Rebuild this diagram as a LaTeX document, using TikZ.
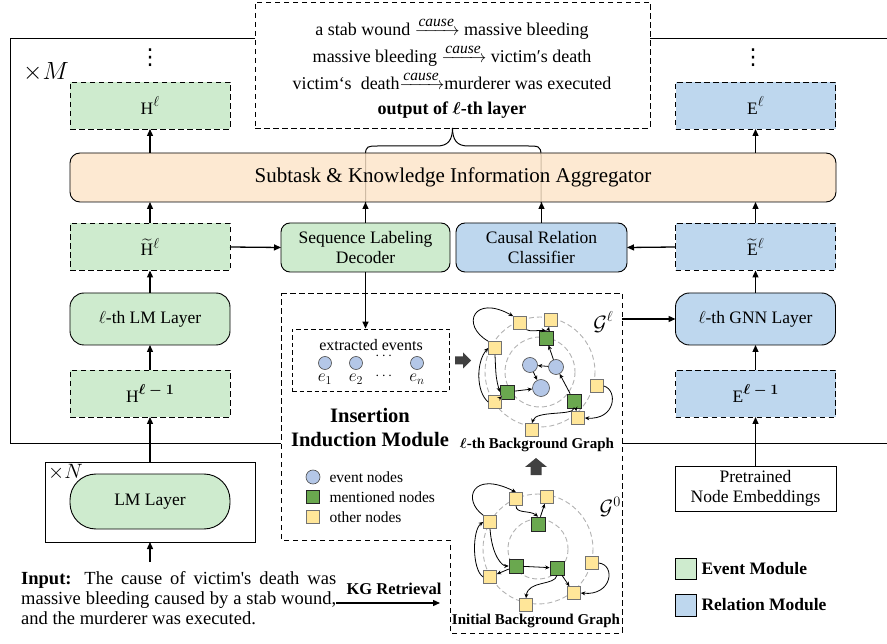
\documentclass[tikz,border=0pt]{standalone}
\usepackage{amsmath}
\usepackage{fontspec}
\setmainfont{Liberation Serif}
\newfontfamily\plainfont{Liberation Serif}
\newfontfamily\dejavu{DejaVu Sans}
\newcommand{\suplbl}[1]{\raisebox{0.42em}{\fontsize{15}{16}\selectfont$#1$}}
\newcommand{\causelbl}{\xrightarrow{\text{\fontsize{15.5}{16}\selectfont\itshape cause}}}
\usetikzlibrary{arrows.meta}
\definecolor{modgreen}{RGB}{206,235,206}
\definecolor{modblue}{RGB}{190,215,238}
\definecolor{aggr}{RGB}{252,228,200}
\definecolor{evb}{RGB}{180,199,231}
\definecolor{mentg}{RGB}{106,168,79}
\definecolor{othery}{RGB}{255,230,153}
\definecolor{blockgray}{RGB}{64,64,64}
\tikzset{
  dbox/.style={draw, dash pattern=on 5.5pt off 3.5pt, line width=0.9pt, minimum width=160pt, minimum height=47pt, inner sep=0pt, outer sep=0pt},
  rbox/.style={draw, rounded corners=14pt, line width=0.9pt, minimum width=160pt, minimum height=52pt, inner sep=0pt, outer sep=0pt},
  sbox/.style={draw, line width=0.9pt, inner sep=0pt, outer sep=0pt},
  arr/.style={-{Triangle[length=7pt,width=6pt]}, line width=1.3pt},
  garr/.style={-{Stealth[length=4.5pt,width=4pt]}, line width=0.8pt},
  ysq/.style={draw=black!55, fill=othery, minimum size=13pt, inner sep=0pt, line width=0.6pt},
  gsq/.style={draw=black!85, fill=mentg, minimum size=14pt, inner sep=0pt, line width=0.6pt},
  bcirc/.style={circle, draw=black!70, fill=evb, minimum size=15pt, inner sep=0pt, line width=0.6pt},
  ring/.style={draw=black!30, dash pattern=on 5pt off 3pt, line width=0.9pt},
  boldlbl/.style={font=\fontsize{15}{17}\selectfont\bfseries},
  vdotsty/.style={font=\fontsize{22}{24}\dejavu, inner sep=0pt},
}
\begin{document}
\begin{tikzpicture}[x=1pt,y=-1pt, font=\fontsize{17.5}{20}\selectfont]
\useasboundingbox (0,0) rectangle (887,644);

% outer xM frame
\draw[line width=0.9pt] (255,38) -- (10,38) -- (10,443) -- (281,443);
\draw[line width=0.9pt] (650,38) -- (887,38);
\draw[line width=0.9pt] (622,443) -- (887,443);
\node[font=\fontsize{26}{28}\selectfont] (xM) at (46,72) {$\times M$};

% top output box
\node[dbox, minimum width=395pt, minimum height=126pt] (top) at (452.5,65) {};
\begin{scope}[font=\fontsize{18}{20}\selectfont]
\node[anchor=base] (t1) at (452,36) {a stab wound $\causelbl$ massive bleeding};
\node[anchor=base] (t2) at (452,63) {massive bleeding $\causelbl$ victim′s death};
\node[anchor=base] (t3) at (452,90) {victim‘s~ death$\causelbl$murderer was executed};
\node[anchor=base, font=\fontsize{18}{20}\selectfont\bfseries] (t4) at (452,115) {output of {\boldmath$\ell$}-th layer};
\end{scope}

% brace from decoder/classifier to top box
\draw[line width=1pt] (365.5,203) -- (365.5,155) .. controls (365.5,146) and (368,146) .. (378,146) -- (437,146) .. controls (448,146) and (452.5,140) .. (top.south);
\draw[line width=1pt] (541,203) -- (541,155) .. controls (541,146) and (538,146) .. (528,146) -- (468,146) .. controls (457,146) and (452.5,140) .. (top.south);

% aggregator
\node[rbox, rounded corners=10pt, fill=aggr, fill opacity=0.82, text opacity=1, minimum width=766pt, minimum height=49pt, font=\fontsize{21}{24}\selectfont] (agg) at (453,177.5) {Subtask \& Knowledge Information Aggregator};

% left column
\node[vdotsty] (ldots) at (150,58) {⋮};
\node[dbox, fill=modgreen] (Hl) at (150,105.5) {H\suplbl{\ell}};
\node[dbox, fill=modgreen] (Ht) at (150,247) {$\widetilde{\text{H}}$\suplbl{\ell}};
\node[rbox, fill=modgreen] (LM) at (150,319) {$\ell$-th LM Layer};
\node[dbox, fill=modgreen] (Hm) at (150,393.5) {H\suplbl{\boldsymbol{\ell-1}}};
\node[sbox, minimum width=210pt, minimum height=80pt] (xN) at (150,502) {};
\node[rbox, fill=modgreen, minimum height=55pt, rounded corners=26pt] (LM0) at (150,501.5) {LM Layer};
\node[anchor=west, font=\fontsize{20}{22}\selectfont, inner sep=0pt] (xNl) at (48,472) {$\times N$};

\draw[arr] (agg.north -| Hl.south) -- (Hl.south);
\draw[arr] (Ht.north) -- (Ht.north |- agg.south);
\draw[arr] (LM.north) -- (Ht.south);
\draw[arr] (Hm.north) -- (LM.south);
\draw[arr] (xN.north) -- (Hm.south);

% input text
\node[anchor=north west, inner sep=0pt, text width=315pt, align=justify, font=\fontsize{18.5}{20}\plainfont] (input) at (21,571)
 {\textbf{Input:} The cause of victim's death was\linebreak massive bleeding caused by a stab wound,\linebreak and the murderer was executed.};
\coordinate (inTop) at (150,562);
\draw[arr] (inTop) -- (xN.south);

% middle decoder / classifier
\node[rbox, rounded corners=9pt, fill=modgreen, minimum width=169pt, minimum height=49pt, align=center] (dec) at (365.5,247.5) {Sequence Labeling\\Decoder};
\node[rbox, rounded corners=9pt, fill=modblue, minimum width=171pt, minimum height=49pt, align=center] (cls) at (541.5,247.5) {Causal Relation\\Classifier};
\draw[arr] (dec.north) -- (dec.north |- agg.south);
\draw[arr] (cls.north) -- (cls.north |- agg.south);
\draw[arr] (Ht.east) -- (dec.west);

% right column
\node[vdotsty] (rdots) at (753,58) {⋮};
\node[dbox, fill=modblue] (El) at (755.5,105.5) {E\suplbl{\ell}};
\node[dbox, fill=modblue] (Et) at (755.5,247) {$\widetilde{\text{E}}$\suplbl{\ell}};
\node[rbox, fill=modblue] (GNN) at (755.5,319) {$\ell$-th GNN Layer};
\node[dbox, fill=modblue] (Em) at (755.5,393.5) {E\suplbl{\boldsymbol{\ell-1}}};
\node[sbox, minimum width=161pt, minimum height=45pt, align=center] (pre) at (755.5,488.5) {Pretrained\\Node Embeddings};
\draw[arr] (agg.north -| El.south) -- (El.south);
\draw[arr] (Et.north) -- (Et.north |- agg.south);
\draw[arr] (GNN.north) -- (Et.south);
\draw[arr] (Em.north) -- (GNN.south);
\draw[arr] (pre.north) -- (Em.south);
\draw[arr] (Et.west) -- (cls.east);

% legend right
\node[sbox, line width=0.7pt, fill=modgreen, minimum width=21pt, minimum height=21pt] (lgE) at (685.5,568.5) {};
\node[anchor=west, font=\fontsize{17.5}{20}\selectfont\bfseries] (lgEt) at (698,568.5) {Event Module};
\node[sbox, line width=0.7pt, fill=modblue, minimum width=21pt, minimum height=22pt] (lgR) at (685.5,605) {};
\node[anchor=west, font=\fontsize{17.5}{20}\selectfont\bfseries] (lgRt) at (698,605) {Relation Module};

% insertion induction module
\draw[dash pattern=on 5.5pt off 3.5pt, line width=0.9pt] (281,293) -- (622,293) -- (622,633) -- (450,633) -- (450,540) -- (281,540) -- cycle;
\node[draw, dash pattern=on 4.5pt off 3pt, line width=0.8pt, minimum width=157pt, minimum height=62pt, inner sep=0pt] (ev) at (370.5,360) {};
\draw[arr] (dec.south) -- (dec.south |- ev.north);
\node[font=\fontsize{16}{18}\selectfont] (evt) at (371,345) {extracted events};
\node[bcirc, minimum size=13pt] (e1) at (325,363) {};
\node[bcirc, minimum size=13pt] (e2) at (356,363) {};
\node[bcirc, minimum size=13pt] (en) at (417,363) {};
\node[font=\fontsize{15}{16}\selectfont] (d1) at (385,356) {$\cdots$};
\node[font=\fontsize{15}{16}\selectfont] (d2) at (385,376) {$\cdots$};
\node[font=\fontsize{17}{18}\selectfont] (l1) at (325,379) {$e_1$};
\node[font=\fontsize{17}{18}\selectfont] (l2) at (356,379) {$e_2$};
\node[font=\fontsize{17}{18}\selectfont] (ln) at (417,379) {$e_n$};
\fill[blockgray] (455,356.5) -- (463,356.5) -- (463,352.5) -- (471,360.5) -- (463,368.5) -- (463,364.5) -- (455,364.5) -- cycle;

\node[align=center, font=\fontsize{20.5}{24}\selectfont\bfseries] (iim) at (370,428) {Insertion\\Induction Module};

\node[bcirc, minimum size=14pt] (lg1) at (313,477) {};
\node[anchor=west, font=\fontsize{15.5}{17}\selectfont] (lg1t) at (326,477) {event nodes};
\node[gsq, minimum size=13pt] (lg2) at (313,497) {};
\node[anchor=west, font=\fontsize{15.5}{17}\selectfont] (lg2t) at (326,497) {mentioned nodes};
\node[ysq] (lg3) at (313,517) {};
\node[anchor=west, font=\fontsize{15.5}{17}\selectfont] (lg3t) at (326,517) {other nodes};

% KG retrieval
\node[font=\fontsize{16.5}{18}\selectfont\bfseries] (kg) at (394,589) {KG Retrieval};
\coordinate (kgA) at (336,603);
\coordinate (kgB) at (440,603);
\draw[arr] (kgA) -- (kgB);

% ----- l-th background graph -----
\draw[ring] (540,372) circle (55);
\draw[ring] (540,372) circle (35);
\node[font=\fontsize{20}{22}\selectfont] (Gl) at (603,322) {$\mathcal{G}$\suplbl{\ell}};
\node[ysq] (aY1) at (520,323) {};
\node[ysq] (aY2) at (551,320) {};
\node[gsq] (aG1) at (546,338) {};
\node[ysq] (aY3) at (495,348) {};
\node[bcirc] (aB1) at (530,365) {};
\node[bcirc] (aB2) at (556,367) {};
\node[bcirc, minimum size=17pt] (aB3) at (541,388) {};
\node[gsq] (aG2) at (507,392) {};
\node[ysq] (aY4) at (495,402) {};
\node[ysq] (aY5) at (597,386) {};
\node[gsq] (aG3) at (574,401) {};
\node[ysq] (aY6) at (578,418) {};
\node[ysq] (aY7) at (532,430) {};
\draw[garr] (aY3.north west) .. controls (460,325) and (474,294) .. (aY1.north west);
\draw[garr] (aY1.south east) .. controls (530,332) and (540,330) .. (aG1.north);
\draw[garr] (aG1) -- (aY2);
\draw[garr] (aB2) -- (aG1);
\draw[garr] (aB2) -- (aB1);
\draw[garr] (aB1) -- (aB3);
\draw[garr] (aG2) -- (aB3);
\draw[garr] (aY3.south) .. controls (496,378) .. (aG2.west);
\draw[garr] (aG2) -- (aY4);
\draw[garr] (aY4.west) .. controls (476,392) and (476,362) .. (aY3.west);
\draw[garr] (aG3) -- (aB2);
\draw[garr] (aG3.south) .. controls (573,416) and (536,410) .. (aY7.north);
\draw[garr] (aG3) -- (aY6);
\draw[garr] (aY5.east) .. controls (618,390) and (616,420) .. (aY6.east);
\node[boldlbl] (Glab) at (537,445) {{\boldmath$\ell$}-th Background Graph};
\fill[blockgray] (536,458) -- (547,467) -- (541.5,467) -- (541.5,475) -- (530.5,475) -- (530.5,467) -- (525,467) -- cycle;

% ----- initial background graph -----
\draw[ring] (538,549) circle (55);
\draw[ring] (538,549) circle (30);
\node[font=\fontsize{20}{22}\selectfont] (G0) at (610,507) {$\mathcal{G}$\suplbl{0}};
\node[ysq] (bY1) at (516,499) {};
\node[ysq] (bY2) at (547,497) {};
\node[gsq] (bG1) at (538,524) {};
\node[ysq] (bY3) at (490,522) {};
\node[gsq] (bG2) at (516,566) {};
\node[gsq] (bG3) at (557,568) {};
\node[ysq] (bY4) at (490,577) {};
\node[ysq] (bY5) at (592,563) {};
\node[ysq] (bY6) at (574,593) {};
\node[ysq] (bY7) at (526,605) {};
\draw[garr] (bY3.north west) .. controls (462,500) and (472,470) .. (bY1.north);
\draw[garr] (bY1.south) .. controls (516,514) and (530,510) .. (bG1.north);
\draw[garr] (bG1) -- (bY2);
\draw[garr] (bY3.south) .. controls (492,556) and (502,566) .. (bG2.west);
\draw[garr] (bG2) -- (bY4);
\draw[garr] (bY4.west) .. controls (472,570) and (472,530) .. (bY3.west);
\draw[garr] (bG2) -- (bG3);
\draw[garr] (bG3.south) .. controls (555,586) and (528,580) .. (bY7.north);
\draw[garr] (bG3) -- (bY6);
\draw[garr] (bY5.east) .. controls (616,565) and (612,596) .. (bY6.east);
\node[boldlbl] (G0lab) at (536,621) {Initial Background Graph};

% arrow from insertion module to GNN
\coordinate (insR) at (622,319);
\draw[arr] (insR) -- (GNN.west);
\end{tikzpicture}
\end{document}
